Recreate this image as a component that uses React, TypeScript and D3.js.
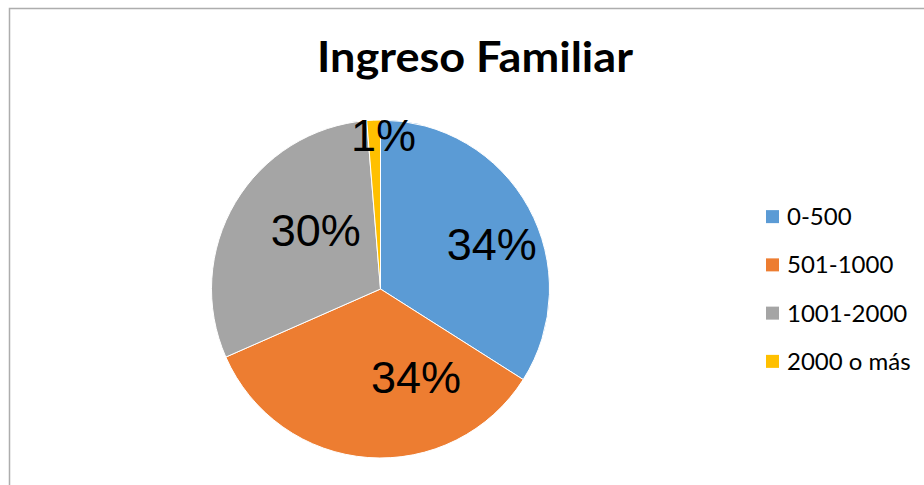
import React from "react";
import * as d3 from "d3";

const categories = ["0-500", "501-1000", "1001-2000", "2000 o más"];
const values = [34.0, 34.4, 30.3, 1.3];
const labels = ["34%", "34%", "30%", "1%"];
const colors = ["#5B9BD5", "#ED7D31", "#A5A5A5", "#FFC000"];
const title = "Ingreso Familiar";

// label placement (angle in degrees clockwise from top, radius fraction)
const labelPolar = [
  { a: 68, r: 0.71 },
  { a: 158, r: 0.56 },
  { a: 312.5, r: 0.52 },
  { a: 1.1, r: 0.91 },
];

export default function App() {
  const W = 924;
  const H = 485;
  const cx = 380.5;
  const cy = 289;
  const R = 169;
  const pie = d3.pie<number>().sort(null).value((d) => d)(values);
  const arc = d3.arc<d3.PieArcDatum<number>>().innerRadius(0).outerRadius(R);
  const legendY = d3.scaleBand<string>().domain(categories).range([193, 386]);

  return (
    <svg
      width={W}
      height={H}
      style={{ position: "absolute", left: 0, top: 0, background: "#fff" }}
    >
      <rect x={9.5} y={8.5} width={W + 20} height={H + 20} fill="#fff" stroke="#ADADAD" strokeWidth={1.5} />
      <text
        x={475}
        y={72}
        textAnchor="middle"
        fontFamily="Lato, 'Open Sans', sans-serif"
        fontWeight="bold"
        fontSize={42}
        textLength={316}
        lengthAdjust="spacingAndGlyphs"
        fill="#000"
      >
        {title}
      </text>
      <g transform={`translate(${cx},${cy})`}>
        {pie.map((p, i) => (
          <path key={i} d={arc(p) || ""} fill={colors[i]} stroke="#fff" strokeWidth={1} />
        ))}
        {pie.map((p, i) => {
          const ang = (labelPolar[i].a * Math.PI) / 180;
          const rr = labelPolar[i].r * R;
          const x = Math.sin(ang) * rr;
          const y = -Math.cos(ang) * rr;
          return (
            <text
              key={"l" + i}
              x={x}
              y={y + 16}
              textAnchor="middle"
              fontFamily="'Liberation Sans', Arial, sans-serif"
              fontSize={45}
              fill="#000"
            >
              {labels[i]}
            </text>
          );
        })}
      </g>
      <g>
        {categories.map((c, i) => {
          const y = (legendY(c) || 0) + legendY.bandwidth() / 2;
          return (
            <g key={c}>
              <rect x={766} y={y - 7} width={13} height={13} fill={colors[i]} />
              <text
                x={787}
                y={y + 8}
                fontFamily="Lato, 'Open Sans', sans-serif"
                fontSize={24}
                fill="#000"
              >
                {c}
              </text>
            </g>
          );
        })}
      </g>
    </svg>
  );
}
